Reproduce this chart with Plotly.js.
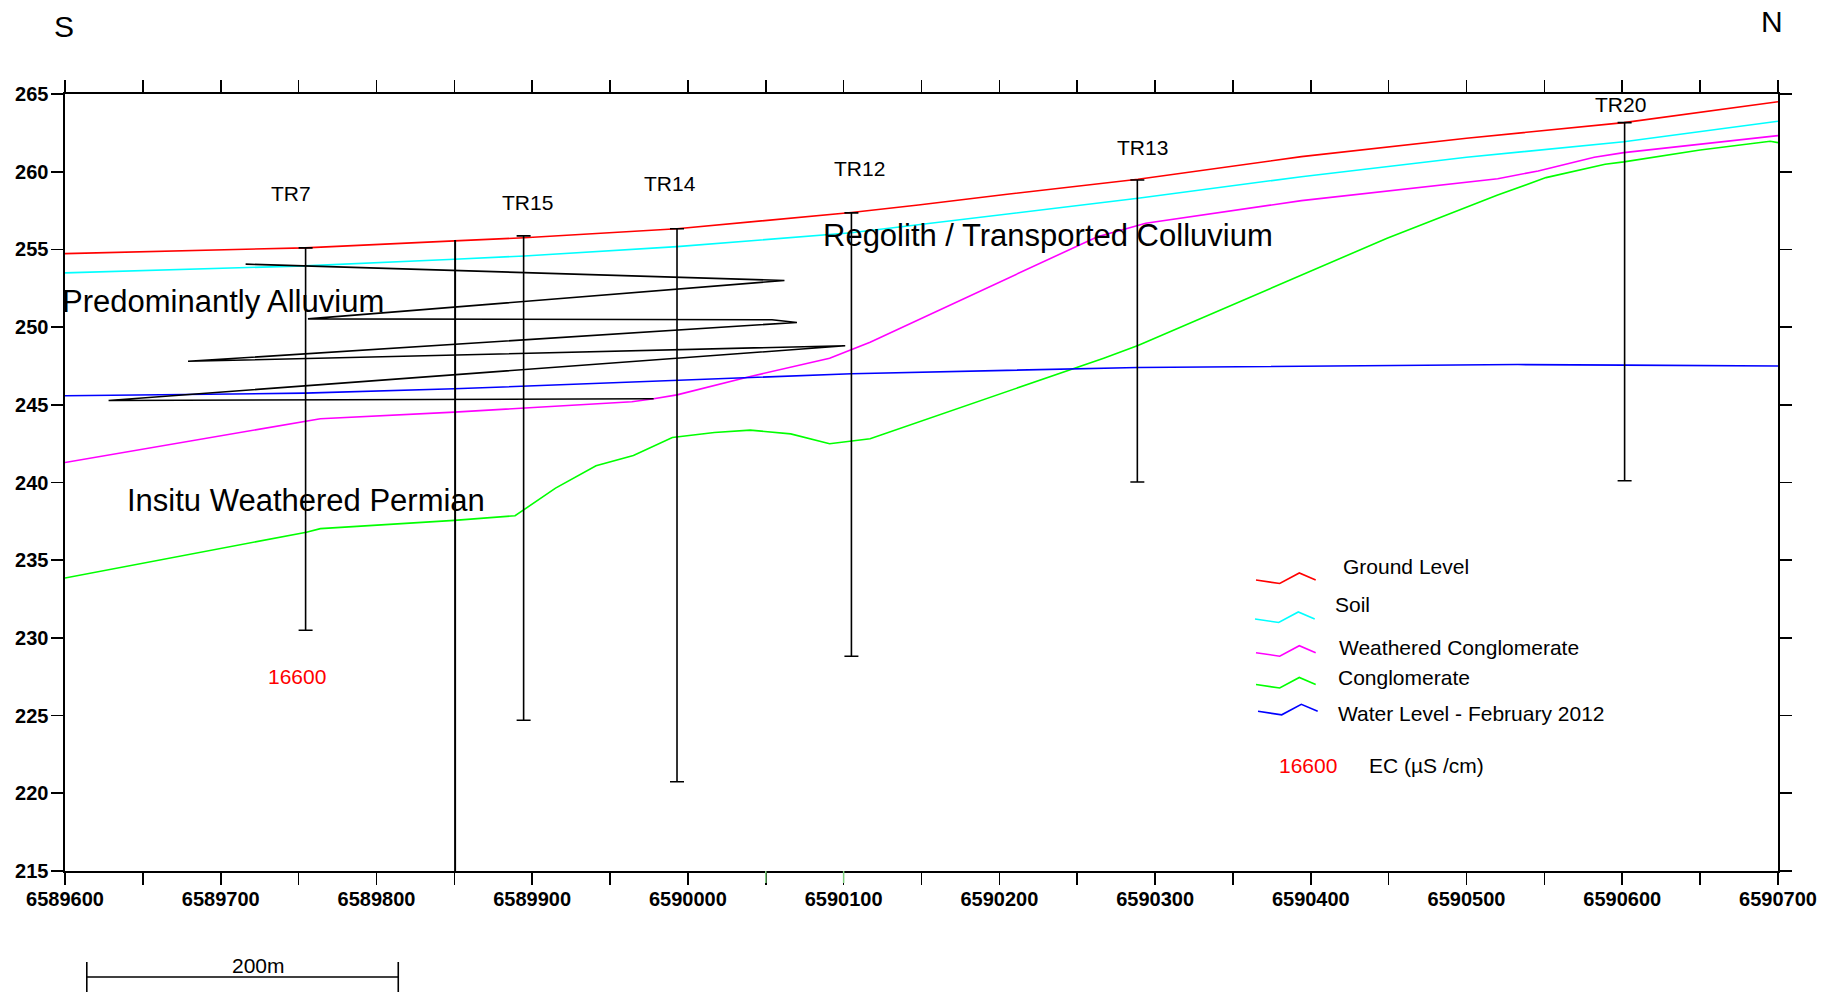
<!DOCTYPE html>
<html><head><meta charset="utf-8">
<script src="https://cdn.plot.ly/plotly-3.0.1.min.js"></script>
<style>html,body{margin:0;padding:0;background:#fff;} #chart{width:1841px;height:995px;}</style>
</head><body><div id="chart"></div>
<script>
// ---------------- data ----------------
var seriesNames = ['Ground Level', 'Soil', 'Weathered Conglomerate', 'Conglomerate', 'Water Level - February 2012'];

var groundX = [6589600, 6589754, 6589850, 6589895, 6589993, 6590105, 6590148, 6590205, 6590289, 6590349, 6590394, 6590500, 6590601, 6590700];
var groundY = [254.73, 255.10, 255.55, 255.75, 256.33, 257.37, 257.86, 258.55, 259.51, 260.37, 260.97, 262.15, 263.16, 264.50];

var soilX = [6589600, 6589754, 6589850, 6589895, 6589993, 6590105, 6590289, 6590394, 6590500, 6590601, 6590700];
var soilY = [253.49, 253.94, 254.37, 254.58, 255.18, 256.07, 258.29, 259.68, 260.93, 261.93, 263.25];

var weatheredX = [6589600, 6589755, 6589764, 6589850, 6589895, 6589964, 6589978, 6589993, 6590040, 6590091, 6590117, 6590263, 6590294, 6590394, 6590520, 6590546, 6590582, 6590601, 6590700];
var weatheredY = [241.29, 243.93, 244.10, 244.53, 244.78, 245.20, 245.39, 245.64, 246.82, 248.00, 249.03, 255.82, 256.68, 258.14, 259.55, 260.05, 260.93, 261.23, 262.32];

var conglomerateX = [6589600, 6589755, 6589764, 6589850, 6589889, 6589915, 6589941, 6589965, 6589990, 6590017, 6590040, 6590066, 6590091, 6590117, 6590267, 6590289, 6590449, 6590496, 6590520, 6590551, 6590589, 6590601, 6590650, 6590695, 6590700];
var conglomerateY = [233.85, 236.80, 237.03, 237.56, 237.86, 239.64, 241.08, 241.74, 242.90, 243.22, 243.37, 243.13, 242.49, 242.81, 248.00, 248.81, 255.72, 257.58, 258.50, 259.62, 260.48, 260.63, 261.40, 261.96, 261.87];

var waterX = [6589600, 6589754, 6589850, 6589993, 6590105, 6590289, 6590394, 6590533, 6590601, 6590700];
var waterY = [245.58, 245.75, 246.03, 246.56, 247.00, 247.40, 247.50, 247.59, 247.55, 247.50];

var zigzagX = [6589716, 6590062, 6589756, 6590054, 6590070, 6589679, 6590101, 6589628, 6589978];
var zigzagY = [254.05, 253.00, 250.53, 250.47, 250.30, 247.80, 248.80, 245.28, 245.39];

var boreNames  = ['TR7', 'TR15', 'TR14', 'TR12', 'TR13', 'TR20'];
var boreX      = [6589754.5, 6589894.5, 6589993, 6590105, 6590288.6, 6590601.5];
var boreTop    = [255.10, 255.87, 256.33, 257.35, 259.47, 263.16];
var boreBottom = [230.49, 224.70, 220.74, 228.82, 240.03, 240.11];
var boreLabelX = [6589745, 6589897, 6589988.5, 6590110, 6590292, 6590599];
var boreLabelY = [258.57, 258.05, 259.26, 260.18, 261.57, 264.34];

var openBoreX = [6589850.5];
var openBoreTop = [255.6];
var openBoreBottom = [215];

var ecValue = ['16600'];
var ecX = [6589749];
var ecY = [227.53];
var ecUnit = 'EC (\u00b5S /cm)';

var regionNames = ['Predominantly Alluvium', 'Regolith / Transported Colluvium', 'Insitu Weathered Permian'];
var regionX = [6589600, 6590085.6, 6589638.3];
var regionY = [251.66, 255.92, 238.83];

var xTickVals = [6589600, 6589650, 6589700, 6589750, 6589800, 6589850, 6589900, 6589950, 6590000, 6590050, 6590100, 6590150, 6590200, 6590250, 6590300, 6590350, 6590400, 6590450, 6590500, 6590550, 6590600, 6590650, 6590700];
var xTickText = ['6589600', '', '6589700', '', '6589800', '', '6589900', '', '6590000', '', '6590100', '', '6590200', '', '6590300', '', '6590400', '', '6590500', '', '6590600', '', '6590700'];
var greenTickX = [6590050, 6590100];

var scaleBarStart = 6589614;
var scaleBarLength = 200;
var scaleBarLabel = '200m';

// ---------------- styling ----------------
var FONT = 'Liberation Sans, Arial, sans-serif';
var colors = ['#ff0000', '#00ffff', '#ff00ff', '#00ff00', '#0000ff'];
var W = 1841, H = 995, ML = 65, MR = 63, MT = 94, MB = 124;
var PW = W - ML - MR, PH = H - MT - MB;
function px(fx) { return (fx - ML) / PW; }
function py(fy) { return (H - MB - fy) / PH; }

var seriesX = [groundX, soilX, weatheredX, conglomerateX, waterX];
var seriesY = [groundY, soilY, weatheredY, conglomerateY, waterY];

var traces = [];
for (var i = 0; i < seriesNames.length; i++) {
  traces.push({
    type: 'scatter', mode: 'lines', name: seriesNames[i],
    x: seriesX[i], y: seriesY[i],
    line: {color: colors[i], width: 1.6}, hoverinfo: 'x+y+name'
  });
}
traces.push({
  type: 'scatter', mode: 'lines', name: 'Alluvium interfingering',
  x: zigzagX, y: zigzagY, line: {color: '#000', width: 1.6}
});
traces.push({
  type: 'scatter', mode: 'markers', name: 'Bores',
  x: boreX, y: boreTop, text: boreNames,
  marker: {size: 1, color: 'rgba(0,0,0,0)'},
  error_y: {
    type: 'data', symmetric: false,
    array: boreTop.map(function () { return 0; }),
    arrayminus: boreTop.map(function (t, k) { return t - boreBottom[k]; }),
    width: 7, thickness: 1.6, color: '#000'
  }
});
for (var j = 0; j < openBoreX.length; j++) {
  traces.push({
    type: 'scatter', mode: 'lines', name: 'Bore',
    x: [openBoreX[j], openBoreX[j]], y: [openBoreTop[j], openBoreBottom[j]],
    line: {color: '#000', width: 2}
  });
}

var annotations = [];
function ann(o) {
  var base = {showarrow: false, font: {family: FONT, size: 21, color: '#000'}, xanchor: 'center', yanchor: 'middle'};
  for (var k in o) base[k] = o[k];
  annotations.push(base);
}
for (var b = 0; b < boreNames.length; b++) {
  ann({x: boreLabelX[b], y: boreLabelY[b], xref: 'x', yref: 'y', text: boreNames[b]});
}
for (var r = 0; r < regionNames.length; r++) {
  ann({x: regionX[r], y: regionY[r], xref: 'x', yref: 'y', text: regionNames[r], xanchor: 'left',
       xshift: r === 0 ? -5 : 0, font: {family: FONT, size: 31, color: '#000'}});
}
ann({x: ecX[0], y: ecY[0], xref: 'x', yref: 'y', text: ecValue[0], font: {family: FONT, size: 21, color: '#ff0000'}});

// compass letters
ann({x: px(64), y: py(26), xref: 'paper', yref: 'paper', text: 'S', font: {family: FONT, size: 30, color: '#000'}});
ann({x: px(1772), y: py(21), xref: 'paper', yref: 'paper', text: 'N', font: {family: FONT, size: 30, color: '#000'}});

// custom legend (zig-zag glyphs + labels)
var legendText = [[1341, 566], [1333, 604], [1337, 647.3], [1336, 677.7], [1336, 713.3]];
var legendGlyph = [[1256, 580], [1255, 619], [1256, 652.7], [1256, 684.5], [1258, 711.3]];
var glyphDX = [0, 23.7, 43.3, 59.7], glyphDY = [0, 3.5, -7, 0];
var shapes = [];
for (var L = 0; L < seriesNames.length; L++) {
  ann({x: px(legendText[L][0]), y: py(legendText[L][1]), xref: 'paper', yref: 'paper', xanchor: 'left', text: seriesNames[L]});
  var p = '';
  for (var q = 0; q < glyphDX.length; q++) {
    p += (q === 0 ? 'M' : 'L') + px(legendGlyph[L][0] + glyphDX[q]).toFixed(5) + ',' + py(legendGlyph[L][1] + glyphDY[q]).toFixed(5) + ' ';
  }
  shapes.push({type: 'path', xref: 'paper', yref: 'paper', path: p, line: {color: colors[L], width: 1.6}});
}
ann({x: px(1277), y: py(765), xref: 'paper', yref: 'paper', xanchor: 'left', text: ecValue[0], font: {family: FONT, size: 21, color: '#ff0000'}});
ann({x: px(1367), y: py(765), xref: 'paper', yref: 'paper', xanchor: 'left', text: ecUnit});

// scale bar
var sbY = py(977), sbT0 = py(962), sbT1 = py(992);
shapes.push({type: 'line', xref: 'x', yref: 'paper', x0: scaleBarStart, x1: scaleBarStart + scaleBarLength, y0: sbY, y1: sbY, line: {color: '#000', width: 1.6}});
shapes.push({type: 'line', xref: 'x', yref: 'paper', x0: scaleBarStart, x1: scaleBarStart, y0: sbT0, y1: sbT1, line: {color: '#000', width: 1.6}});
shapes.push({type: 'line', xref: 'x', yref: 'paper', x0: scaleBarStart + scaleBarLength, x1: scaleBarStart + scaleBarLength, y0: sbT0, y1: sbT1, line: {color: '#000', width: 1.6}});
ann({x: scaleBarStart + scaleBarLength / 2 + 10, y: py(965.7), xref: 'x', yref: 'paper', text: scaleBarLabel});

// green tick overlays on the bottom axis
for (var g = 0; g < greenTickX.length; g++) {
  shapes.push({type: 'line', xref: 'x', yref: 'paper', x0: greenTickX[g], x1: greenTickX[g], y0: 0, y1: -12 / PH,
               line: {color: '#80d080', width: 1.5}, layer: 'above'});
}

var axisCommon = {
  showgrid: false, zeroline: false, showline: true, linecolor: '#000', linewidth: 1.6,
  ticks: 'outside', ticklen: 12, tickwidth: 1.6, tickcolor: '#000', mirror: 'ticks',
  tickfont: {family: FONT, size: 20, color: '#000', weight: 'bold'}, automargin: false, fixedrange: true
};
var xaxis = Object.assign({}, axisCommon, {range: [6589600, 6590700], tickmode: 'array', tickvals: xTickVals, ticktext: xTickText, ticklabelstandoff: -3});
var yaxis = Object.assign({}, axisCommon, {range: [215, 265], dtick: 5, tick0: 215, ticklabelstandoff: -1});

var layout = {
  width: W, height: H, margin: {l: ML, r: MR, t: MT, b: MB, pad: 0},
  paper_bgcolor: '#fff', plot_bgcolor: '#fff', showlegend: false,
  font: {family: FONT, color: '#000'},
  xaxis: xaxis, yaxis: yaxis, annotations: annotations, shapes: shapes
};
Plotly.newPlot('chart', traces, layout, {displayModeBar: false, staticPlot: true});
</script></body></html>
